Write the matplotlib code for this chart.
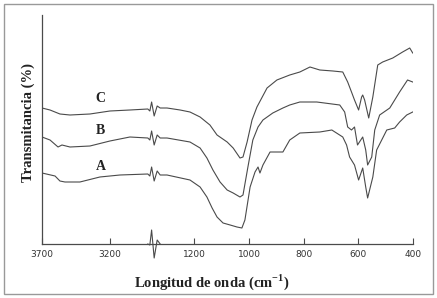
import numpy as np
import matplotlib
matplotlib.use("Agg")
import matplotlib.pyplot as plt
from matplotlib.patches import Rectangle

# wavenumbers (cm-1) and transmittance (arbitrary units)
# the left branch (3700-2890) and right branch (1355-400) meet at the axis break
wn_C = [3700, 3641, 3568, 3494, 3347, 3200, 3053, 2921, 2906, 2893,
        1347, 1336, 1325, 1300, 1252, 1216, 1179, 1143, 1117, 1080, 1058, 1033,
        1022, 1007, 989, 971, 934, 898, 851, 814, 777, 741, 693, 657, 639, 625,
        614, 599, 588, 584, 577, 562, 547, 529, 511, 474, 438, 412, 401]
tr_C = [136, 134, 130, 129, 130, 133, 134, 135, 133, 142,
        128, 138, 136, 136, 134, 132, 127, 119, 109, 102, 96, 86,
        87, 102, 124, 137, 156, 164, 169, 172, 177, 174, 173, 172, 162, 152,
        144, 134, 147, 149, 144, 126, 147, 179, 182, 186, 192, 196, 191]

wn_B = [3700, 3641, 3582, 3553, 3494, 3347, 3200, 3053, 2921, 2906, 2893,
        1347, 1336, 1325, 1300, 1216, 1179, 1154, 1132, 1106, 1080, 1058, 1033,
        1022, 1004, 986, 967, 949, 913, 876, 851, 814, 752, 668, 650, 639, 625,
        614, 603, 584, 573, 566, 551, 540, 522, 485, 449, 420, 401]
tr_B = [107, 104, 97, 99, 97, 98, 103, 107, 106, 104, 113,
        99, 109, 106, 106, 102, 96, 86, 74, 62, 54, 51, 47,
        49, 77, 104, 117, 124, 131, 136, 139, 142, 142, 139, 132, 117, 114,
        117, 99, 107, 94, 79, 87, 114, 129, 136, 152, 164, 162]

wn_A = [3700, 3604, 3568, 3531, 3421, 3274, 3126, 2921, 2906, 2893,
        1347, 1336, 1325, 1300, 1216, 1179, 1154, 1135, 1117, 1095, 1069, 1044,
        1026, 1015, 996, 978, 967, 960, 949, 923, 876, 851, 814, 741, 697, 657,
        643, 632, 614, 599, 584, 573, 566, 547, 533, 496, 467, 449, 423, 401]
tr_A = [71, 68, 63, 62, 62, 67, 69, 70, 68, 77,
        63, 73, 69, 69, 64, 57, 47, 36, 27, 21, 19, 17,
        16, 24, 57, 72, 77, 71, 79, 92, 92, 104, 111, 112, 114, 107,
        99, 87, 79, 64, 76, 57, 46, 67, 94, 114, 116, 122, 129, 132]

ticks = [3700, 3200, 1200, 1000, 800, 600, 400]
labels = ["A", "B", "C"]

# broken axis: piecewise linear position (pixels of the original)
brk_wn = [400, 1355, 2891, 3700]
brk_pos = [0, 261.3, 261.4, 371.4]


def forward(w):
    return np.interp(w, brk_wn, brk_pos)


def inverse(p):
    return np.interp(p, brk_pos, brk_wn)


plt.rcParams['mathtext.fontset'] = 'custom'
plt.rcParams['mathtext.rm'] = 'Liberation Serif:bold'
plt.rcParams['mathtext.bf'] = 'Liberation Serif:bold'

fig = plt.figure(figsize=(4.37, 2.98), dpi=100)
ax = fig.add_axes([42/437, 54/298, 371/437, 229/298])
ax.set_xscale('function', functions=(forward, inverse))

col = '#4a4a4a'
for wn, tr in [(wn_A, tr_A), (wn_B, tr_B), (wn_C, tr_C)]:
    ax.plot(wn, tr, color=col, lw=0.8)

ax.set_xlim(3700, 400)
ax.set_ylim(0, 229)
ax.set_xticks(ticks)
ax.set_xticklabels([str(t) for t in ticks])
ax.set_yticks([])
ax.tick_params(axis='x', direction='in', length=4, width=0.8, color=col,
               labelsize=6.5, labelcolor='#333333', pad=4)
for s in ['top', 'right']:
    ax.spines[s].set_visible(False)
for s in ['left', 'bottom']:
    ax.spines[s].set_color(col)
    ax.spines[s].set_linewidth(0.9)

# break mark on the x axis
ax.plot([2921, 2906, 2893, 1347, 1336, 1325], [0, -1, 14, -14, 4, 0],
        color=col, lw=0.8, clip_on=False)

# curve labels
for lab, y in zip(labels, [77, 113, 146]):
    ax.text(3270, y, lab, fontsize=10, fontweight='bold', family='Liberation Serif',
            ha='center', va='center', color='#222222')

fig.text(212/437, 1 - 282/298, r'Longitud de onda (cm$^{-1}$)', fontsize=10.5,
         fontweight='bold', family='Liberation Serif', ha='center', va='center',
         color='#222222')
fig.text(28/437, 1 - 122/298, 'Transmitancia (%)', fontsize=10.5, rotation=90,
         fontweight='bold', family='Liberation Serif', ha='center', va='center',
         color='#222222')

fig.patches.append(Rectangle((4/437, 4/298), 429/437, 290/298,
                             transform=fig.transFigure, fill=False,
                             edgecolor='#999999', lw=1))

fig.savefig('out.png', dpi=100)
